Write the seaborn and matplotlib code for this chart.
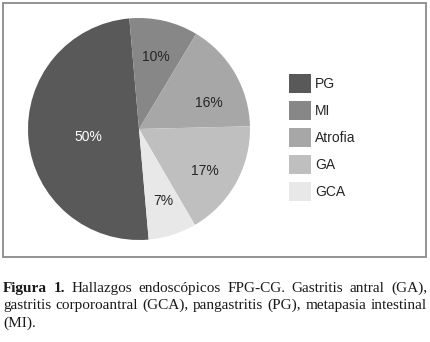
import matplotlib
matplotlib.use("Agg")
import matplotlib.pyplot as plt
import matplotlib.patches as mpatches
import seaborn as sns

# datos del grafico (hallazgos endoscopicos)
categorias = ["PG", "MI", "Atrofia", "GA", "GCA"]
porcentajes = [50, 10, 16, 17, 7]
colores = ["#595959", "#878787", "#a7a7a7", "#bfbfbf", "#e8e8e8"]

caption_lines = [
    [("Figura", "bold"), ("1.", "bold"), ("Hallazgos", "normal"), ("endoscópicos", "normal"),
     ("FPG-CG.", "normal"), ("Gastritis", "normal"), ("antral", "normal"), ("(GA),", "normal")],
    [("gastritis", "normal"), ("corporoantral", "normal"), ("(GCA),", "normal"),
     ("pangastritis", "normal"), ("(PG),", "normal"), ("metapasia", "normal"), ("intestinal", "normal")],
    [("(MI).", "normal")],
]

sns.set_theme(style="white")
plt.rcParams["font.family"] = ["Liberation Sans", "DejaVu Sans"]

W, H = 430, 342
fig = plt.figure(figsize=(W / 100, H / 100), dpi=100)
fig.patch.set_facecolor("white")

# marco gris alrededor del grafico
fig.patches.append(mpatches.Rectangle((3 / W, 1 - 257 / H), 423 / W, 254 / H,
                                      transform=fig.transFigure, fill=False,
                                      edgecolor="#8a8a8a", linewidth=1.3))

ax = fig.add_axes([28 / W, 1 - 240 / H, 222 / W, 222 / H])
wedges, texts, autotexts = ax.pie(porcentajes, colors=colores, startangle=-85,
                                  counterclock=False, autopct="%1.0f%%",
                                  pctdistance=0.68, radius=1,
                                  wedgeprops=dict(linewidth=0),
                                  textprops=dict(fontsize=10, color="#262626"))
ax.set_xlim(-1, 1)
ax.set_ylim(-1, 1)
ax.set_aspect("equal")
ax.axis("off")

# posicion de las etiquetas tipo "best fit"
label_pos = [(-0.46, -0.07), (0.15, 0.65), (0.63, 0.23), (0.59, -0.38), (0.22, -0.65)]
for t, p in zip(autotexts, label_pos):
    t.set_position(p)
autotexts[0].set_color("white")

fig.legend(wedges, categorias, loc="upper left", bbox_to_anchor=(289 / W, 1 - 74 / H),
           frameon=False, fontsize=10, handlelength=1.58, handleheight=1.73,
           labelspacing=0.57, handletextpad=0.3, borderpad=0, borderaxespad=0)

# pie de figura justificado
fig.canvas.draw()
renderer = fig.canvas.get_renderer()
left, right = 3, 427
baselines = [291.7, 309.2, 326.7]
for i, (line, yb) in enumerate(zip(caption_lines, baselines)):
    objs = []
    for word, weight in line:
        t = fig.text(0, 1 - yb / H, word, fontsize=11, fontweight=weight,
                     family=["Liberation Serif", "DejaVu Serif"], va="baseline",
                     ha="left", color="#1a1a1a")
        objs.append(t)
    widths = [o.get_window_extent(renderer).width for o in objs]
    if i < len(caption_lines) - 1 and len(objs) > 1:
        gap = (right - left - sum(widths)) / (len(objs) - 1)
    else:
        gap = 3
    x = left
    for o, w in zip(objs, widths):
        o.set_x(x / W)
        x += w + gap

fig.savefig("out.png", dpi=100)
